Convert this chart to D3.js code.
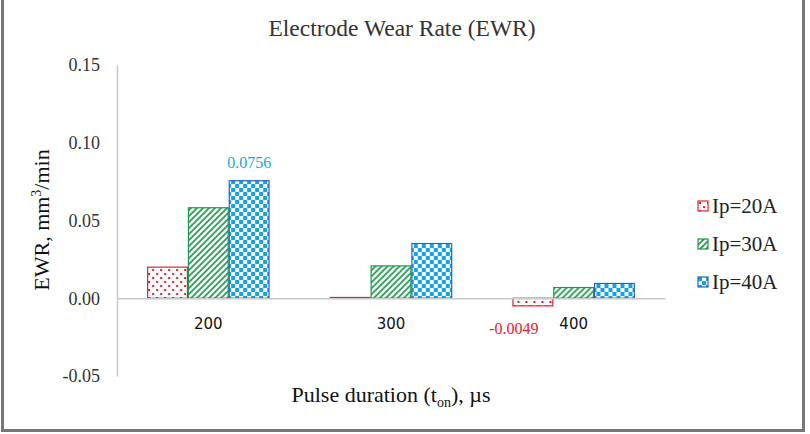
<!DOCTYPE html>
<html>
<head>
<meta charset="utf-8">
<script src="https://cdn.jsdelivr.net/npm/d3@7"></script>
<style>
  body { margin: 0; background: #fff; }
  svg { display: block; }
</style>
</head>
<body>
<svg id="chart" width="810" height="434"></svg>
<script>
const categories = ['200', '300', '400'];
const seriesNames = ['Ip=20A', 'Ip=30A', 'Ip=40A'];
const ip20 = [0.0200, 0.0005, -0.0049];
const ip30 = [0.0582, 0.0208, 0.0069];
const ip40 = [0.0756, 0.0352, 0.0095];
const yTicks = [-0.05, 0.00, 0.05, 0.10, 0.15];

const serif = '"Liberation Serif", "Times New Roman", serif';
const svg = d3.select('#chart');
const fmt = (f) => (v) => d3.format(f)(v).replace('\u2212', '-');

// frame
svg.append('rect')
  .attr('x', 2.5).attr('y', -5).attr('width', 801).attr('height', 435.5)
  .attr('fill', 'none').attr('stroke', '#777').attr('stroke-width', 3);

const defs = svg.append('defs');

// dotted red
const pRed = defs.append('pattern').attr('id', 'pRed')
  .attr('patternUnits', 'userSpaceOnUse').attr('width', 8).attr('height', 8);
pRed.append('rect').attr('width', 8).attr('height', 8).attr('fill', '#fff');
pRed.append('rect').attr('x', 1).attr('y', 1).attr('width', 2).attr('height', 2).attr('fill', '#e8202a');
pRed.append('rect').attr('x', 5).attr('y', 5).attr('width', 2).attr('height', 2).attr('fill', '#e8202a');

// diagonal green
const pGreen = defs.append('pattern').attr('id', 'pGreen')
  .attr('patternUnits', 'userSpaceOnUse').attr('width', 6).attr('height', 6);
pGreen.append('rect').attr('width', 6).attr('height', 6).attr('fill', '#fff');
pGreen.append('path').attr('d', 'M-1,7 L7,-1 M-4,4 L4,-4 M2,10 L10,2')
  .attr('stroke', '#1a9a4a').attr('stroke-width', 1.6);

// checker blue
const pBlue = defs.append('pattern').attr('id', 'pBlue')
  .attr('patternUnits', 'userSpaceOnUse').attr('width', 8).attr('height', 8);
pBlue.append('rect').attr('width', 8).attr('height', 8).attr('fill', '#fff');
pBlue.append('rect').attr('width', 4).attr('height', 4).attr('fill', '#12a3e8');
pBlue.append('rect').attr('x', 4).attr('y', 4).attr('width', 4).attr('height', 4).attr('fill', '#12a3e8');

const fills = ['url(#pRed)', 'url(#pGreen)', 'url(#pBlue)'];
const strokes = ['#e8202a', '#1a9a4a', '#2e62c0'];

const x0 = d3.scaleBand().domain(categories).range([117, 665]).paddingInner(0.33).paddingOuter(0.165);
const x1 = d3.scaleBand().domain(seriesNames).range([0, x0.bandwidth()]);
const y = d3.scaleLinear().domain([-0.05, 0.15]).range([376, 65]);

// y axis
const yAxis = svg.append('g').attr('transform', 'translate(117,0)')
  .call(d3.axisLeft(y).tickValues(yTicks).tickSize(0).tickPadding(17).tickFormat(fmt('.2f')));
yAxis.select('.domain').attr('stroke', '#c8c8c8').attr('stroke-width', 1.5);
yAxis.selectAll('text').attr('font-family', serif).attr('font-size', 18).attr('fill', '#333');

// bars
const data = categories.map((c, i) => ({ cat: c, vals: [ip20[i], ip30[i], ip40[i]] }));
const groups = svg.append('g').selectAll('g').data(data).enter().append('g')
  .attr('transform', d => `translate(${x0(d.cat)},0)`);
groups.selectAll('rect')
  .data(d => d.vals.map((v, k) => ({ v, k })))
  .enter().append('rect')
  .attr('x', d => x1(seriesNames[d.k]) + 0.5)
  .attr('width', x1.bandwidth() - 1)
  .attr('y', d => y(Math.max(0, d.v)))
  .attr('height', d => Math.abs(y(d.v) - y(0)))
  .attr('fill', d => fills[d.k])
  .attr('stroke', d => strokes[d.k])
  .attr('stroke-width', 1.2);

// x axis at zero
const xAxis = svg.append('g').attr('transform', `translate(0,${y(0)})`)
  .call(d3.axisBottom(x0).tickSize(0).tickPadding(20).tickSizeOuter(0));
xAxis.select('.domain').attr('stroke', '#c8c8c8').attr('stroke-width', 1.5);
xAxis.selectAll('text').attr('font-family', '"DejaVu Sans", sans-serif').attr('font-size', 15).attr('fill', '#111');

// data labels
svg.append('text')
  .attr('x', x0('200') + x1('Ip=40A') + x1.bandwidth() / 2).attr('y', y(ip40[0]) - 13)
  .attr('text-anchor', 'middle').attr('font-family', serif).attr('font-size', 16)
  .attr('fill', '#1aa7d9').text(fmt('.4f')(ip40[0]));
svg.append('text')
  .attr('x', x0('400') + x1('Ip=20A') + x1.bandwidth() / 2 - 19).attr('y', y(ip20[2]) + 28)
  .attr('text-anchor', 'middle').attr('font-family', serif).attr('font-size', 16)
  .attr('fill', '#e8202a').text(fmt('.4f')(ip20[2]));

// title
svg.append('text').attr('x', 402).attr('y', 36).attr('text-anchor', 'middle')
  .attr('font-family', serif).attr('font-size', 23.5).attr('fill', '#333')
  .text('Electrode Wear Rate (EWR)');

// y axis title
const yt = svg.append('text').attr('transform', 'translate(49,220) rotate(-90)')
  .attr('text-anchor', 'middle').attr('font-family', serif).attr('font-size', 22).attr('fill', '#111');
yt.append('tspan').text('EWR, mm');
yt.append('tspan').attr('font-size', 14).attr('dy', -8).text('3');
yt.append('tspan').attr('dy', 8).text('/min');

// x axis title
const xt = svg.append('text').attr('x', 391).attr('y', 402).attr('text-anchor', 'middle')
  .attr('font-family', serif).attr('font-size', 22).attr('fill', '#111');
xt.append('tspan').text('Pulse duration (t');
xt.append('tspan').attr('font-size', 14).attr('dy', 5).text('on');
xt.append('tspan').attr('dy', -5).text('), µs');

// legend
const legend = svg.append('g').selectAll('g').data(seriesNames).enter().append('g')
  .attr('transform', (d, i) => `translate(698,${201 + i * 38})`);
legend.append('rect').attr('width', 10).attr('height', 10)
  .attr('fill', (d, i) => fills[i]).attr('stroke', (d, i) => strokes[i]).attr('stroke-width', 1.2);
legend.append('text').attr('x', 14).attr('y', 12)
  .attr('font-family', serif).attr('font-size', 21).attr('fill', '#222').text(d => d);
</script>
</body>
</html>
